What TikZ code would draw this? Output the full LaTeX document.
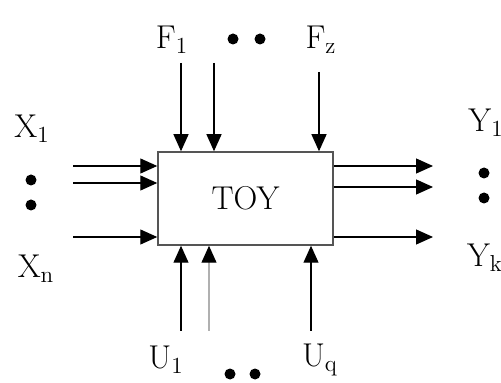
\documentclass[tikz,border=0pt]{standalone}
\usepackage{tikz}
\usetikzlibrary{arrows.meta,positioning,calc}
\definecolor{edge}{HTML}{555555}
\definecolor{faint}{HTML}{B0B0B0}
\tikzset{
  obj/.style={draw=edge,line width=0.75pt,fill=white,minimum width=87.5pt,
    minimum height=46.5pt,inner sep=0pt,font=\fontsize{16.5}{18}\selectfont},
  flow/.style={-{Triangle[length=8.5pt,width=7.5pt,color=black]},line width=0.6pt,draw=black},
  flowg/.style={flow,draw=faint},
  lab/.style={inner sep=0pt,font=\fontsize{16.5}{18}\selectfont},
  pt/.style={fill=black,circle,inner sep=0pt,minimum size=5.5pt},
}
\begin{document}
\begin{tikzpicture}[x=0.5pt,y=-0.5pt]
  \useasboundingbox (0,0) rectangle (501,383);
  \node[obj] (toy) at (245.5,198.5) {TOY};
  % free ends of the connectors
  \coordinate (f1) at (181,63);  \coordinate (f2) at (214,63);  \coordinate (f3) at (319,72);
  \coordinate (u1) at (181,331); \coordinate (u2) at (209,331); \coordinate (u3) at (311,331);
  \coordinate (x1) at (73,166);  \coordinate (x2) at (73,183);  \coordinate (x3) at (73,237);
  \coordinate (y1) at (433,166); \coordinate (y2) at (433,187); \coordinate (y3) at (433,237);
  \foreach \c in {f1,f2,f3} \draw[flow] (\c) -- (\c |- toy.north);
  \foreach \c in {u1,u3} \draw[flow] (\c) -- (\c |- toy.south);
  \draw[flowg] (u2) -- (u2 |- toy.south);
  \foreach \c in {x1,x2,x3} \draw[flow] (\c) -- (\c -| toy.west);
  \foreach \c in {y1,y2,y3} \draw[flow] (\c -| toy.east) -- (\c);
  % labels
  \node[lab] (lf1) at (172,40) {F\textsubscript{1}};
  \node[lab] (lfz) at (321,40) {F\textsubscript{z}};
  \node[pt] (df1) at (233,39) {};
  \node[pt] (df2) at (260,39) {};
  \node[lab] (lx1) at (32,129) {X\textsubscript{1}};
  \node[pt] (dx1) at (31,180) {};
  \node[pt] (dx2) at (31,205) {};
  \node[lab] (lxn) at (36,269) {X\textsubscript{n}};
  \node[lab] (ly1) at (486,123) {Y\textsubscript{1}};
  \node[pt] (dy1) at (484,173) {};
  \node[pt] (dy2) at (484,198) {};
  \node[lab] (lyk) at (485,258) {Y\textsubscript{k}};
  \node[lab] (lu1) at (166,360) {U\textsubscript{1}};
  \node[lab] (luq) at (320,360) {U\textsubscript{q}};
  \node[pt] (du1) at (230,374) {};
  \node[pt] (du2) at (255,374) {};
\end{tikzpicture}
\end{document}
